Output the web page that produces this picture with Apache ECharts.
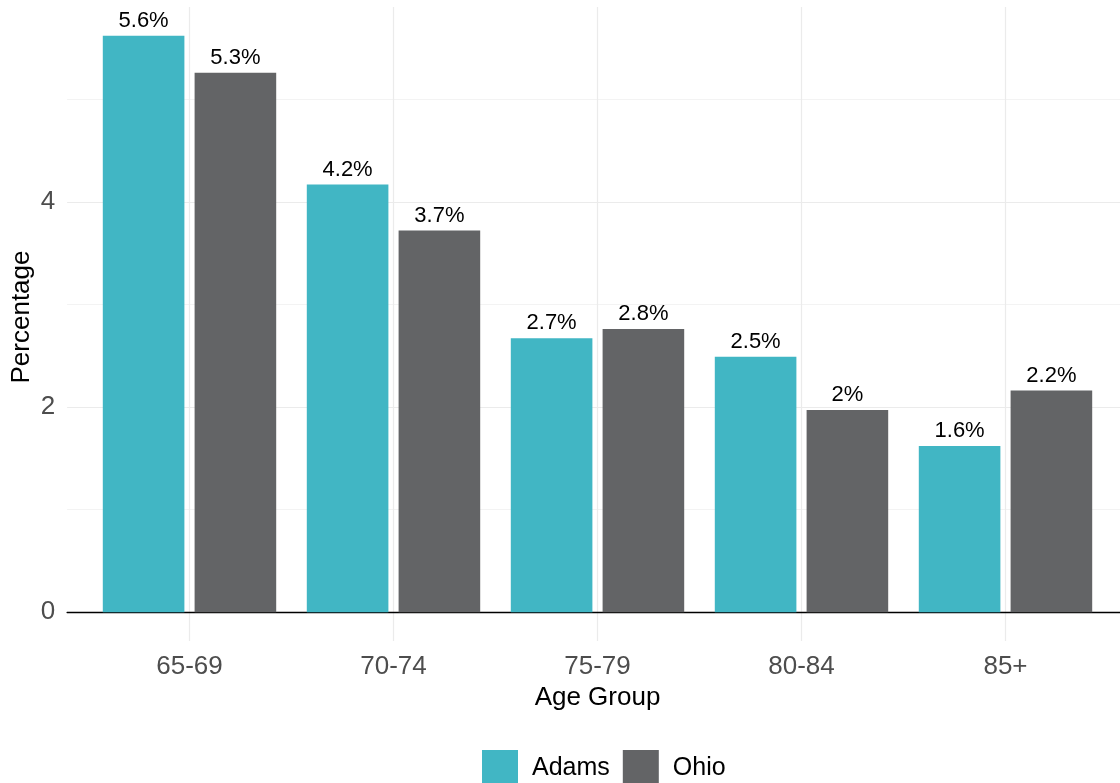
<!DOCTYPE html>
<html>
<head>
<meta charset="utf-8">
<script src="https://cdn.jsdelivr.net/npm/echarts@6/dist/echarts.min.js"></script>
<style>
  html, body { margin: 0; padding: 0; background: #ffffff; }
  #chart { width: 1120px; height: 783px; }
</style>
</head>
<body>
<div id="chart"></div>
<script>
// ---- data ----
const categories = ['65-69', '70-74', '75-79', '80-84', '85+'];
const seriesNames = ['Adams', 'Ohio'];
const adamsValues = [5.62, 4.17, 2.67, 2.49, 1.62];
const ohioValues = [5.26, 3.72, 2.76, 1.97, 2.16];
const yTickLabels = [0, 2, 4];
const yMin = -0.281;
const yMax = 5.9;

const FONT = '"Liberation Sans", Arial, Helvetica, sans-serif';
const colors = ['#41B6C4', '#636466'];

function pctLabel(p) {
  const v = Math.round(p.value * 10) / 10;
  return String(v) + '%';
}

const chart = echarts.init(document.getElementById('chart'), null, { renderer: 'canvas' });

const option = {
  backgroundColor: '#ffffff',
  animation: false,
  textStyle: { fontFamily: FONT },
  grid: [
    // grid 0: panel (gridlines, axis labels, baseline)
    { left: 67.1, right: -7.9, top: 7, bottom: 142, containLabel: false, outerBoundsMode: 'none' },
    // grid 1: bars (category bands)
    { left: 87.5, right: 12.5, top: 7, bottom: 142, containLabel: false, outerBoundsMode: 'none' }
  ],
  legend: {
    data: seriesNames,
    icon: 'rect',
    itemWidth: 36,
    itemHeight: 36,
    itemGap: 13,
    left: 482,
    top: 750,
    padding: 0,
    textStyle: { fontSize: 25, color: '#000000', fontFamily: FONT, padding: [0, 0, 0, 9] }
  },
  xAxis: [
    {
      gridIndex: 0,
      type: 'value',
      min: 0.4,
      max: 5.6,
      splitNumber: 5,
      name: 'Age Group',
      nameLocation: 'middle',
      nameGap: 40,
      nameTextStyle: { fontSize: 26, color: '#000000', fontFamily: FONT },
      axisLine: { show: true, onZero: true, lineStyle: { color: '#000000', width: 1.3 } },
      axisTick: { show: false },
      axisLabel: {
        show: true,
        showMinLabel: false,
        showMaxLabel: false,
        margin: 13,
        fontSize: 26,
        color: '#4D4D4D',
        fontFamily: FONT,
        formatter: function (v) {
          const i = Math.round(v) - 1;
          return (Math.abs(v - Math.round(v)) < 1e-6 && categories[i] !== undefined) ? categories[i] : '';
        }
      },
      splitLine: { show: true, showMinLine: false, showMaxLine: false, lineStyle: { color: '#EBEBEB', width: 1.2 } }
    },
    {
      gridIndex: 1,
      type: 'category',
      data: categories,
      show: false
    }
  ],
  yAxis: [
    {
      gridIndex: 0,
      type: 'value',
      min: yMin,
      max: yMax,
      splitNumber: 6,
      name: 'Percentage',
      nameLocation: 'middle',
      nameGap: 32,
      nameMoveOverlap: false,
      nameRotate: 90,
      nameTextStyle: { fontSize: 26, color: '#000000', fontFamily: FONT, padding: [0, 0, 0, 14] },
      axisLine: { show: false },
      axisTick: { show: false },
      axisLabel: {
        showMinLabel: false,
        showMaxLabel: false,
        margin: 12,
        fontSize: 26,
        color: '#4D4D4D',
        fontFamily: FONT,
        formatter: function (v) {
          return yTickLabels.indexOf(Math.round(v * 1000) / 1000) >= 0 ? String(v) : '';
        }
      },
      splitLine: {
        show: true,
        showMinLine: false,
        showMaxLine: false,
        lineStyle: { color: ['#EBEBEB', '#F3F3F3'], width: 1.2 }
      }
    },
    {
      gridIndex: 1,
      type: 'value',
      min: yMin,
      max: yMax,
      show: false,
      splitLine: { show: false }
    }
  ],
  series: [
    {
      name: seriesNames[0],
      type: 'bar',
      xAxisIndex: 1,
      yAxisIndex: 1,
      data: adamsValues,
      barWidth: '40%',
      barGap: '12.5%',
      itemStyle: { color: colors[0] },
      label: { show: true, position: 'top', distance: 4, fontSize: 22, color: '#000000', fontFamily: FONT, formatter: pctLabel }
    },
    {
      name: seriesNames[1],
      type: 'bar',
      xAxisIndex: 1,
      yAxisIndex: 1,
      data: ohioValues,
      barWidth: '40%',
      barGap: '12.5%',
      itemStyle: { color: colors[1] },
      label: { show: true, position: 'top', distance: 4, fontSize: 22, color: '#000000', fontFamily: FONT, formatter: pctLabel }
    }
  ]
};

chart.setOption(option);
</script>
</body>
</html>
